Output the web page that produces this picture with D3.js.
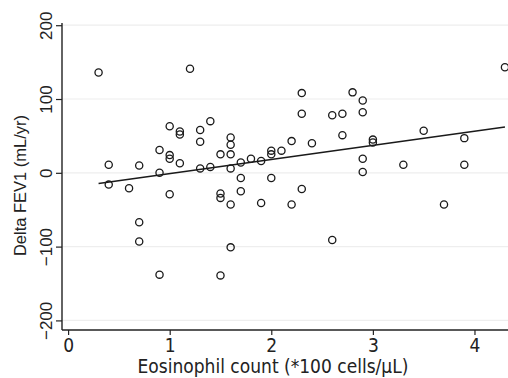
<!DOCTYPE html>
<html>
<head>
<meta charset="utf-8">
<script src="https://cdn.jsdelivr.net/npm/d3@7"></script>
<style>
  body { margin: 0; background: #fff; }
  svg { display: block; }
</style>
</head>
<body>
<div id="chart"></div>
<script>
// eosinophil count (*100 cells/uL)
const eos = [0.3, 0.4, 0.4, 0.6, 0.7, 0.7, 0.7, 0.9, 0.9, 0.9,
  1.0, 1.0, 1.0, 1.0, 1.1, 1.1, 1.1, 1.2, 1.3, 1.3,
  1.3, 1.4, 1.4, 1.5, 1.5, 1.5, 1.5, 1.6, 1.6, 1.6,
  1.6, 1.6, 1.6, 1.7, 1.7, 1.7, 1.8, 1.9, 1.9, 2.0,
  2.0, 2.0, 2.1, 2.2, 2.2, 2.3, 2.3, 2.3, 2.4, 2.6,
  2.6, 2.7, 2.7, 2.8, 2.9, 2.9, 2.9, 2.9, 3.0, 3.0,
  3.3, 3.5, 3.7, 3.9, 3.9, 4.3];
// delta FEV1 (mL/yr)
const fev = [136, 11, -16, -21, 10, -67, -93, 31, 0, -138,
  63, 24, 19, -29, 56, 52, 13, 141, 58, 42,
  6, 70, 8, 25, -28, -34, -139, 48, 38, 25,
  6, -43, -101, 14, -7, -25, 19, 16, -41, 30,
  25, -7, 30, 43, -43, 108, 80, -22, 40, 78,
  -91, 80, 51, 109, 98, 82, 19, 1, 45, 41,
  11, 57, -43, 47, 11, 143];
// fitted line
const fitX = [0.3, 4.3];
const fitY = [-14.5, 62];
const xTicks = [0, 1, 2, 3, 4];
const yTicks = [-200, -100, 0, 100, 200];

const W = 508, H = 378;
const pl = 62, pr = 508, pt = 23, pb = 330;

const svg = d3.select('#chart').append('svg')
  .attr('width', W)
  .attr('height', H);

const x = d3.scaleLinear().domain([-0.06, 4.33]).range([pl, pr]);
const y = d3.scaleLinear().domain([-213, 203]).range([pb, pt]);

// grid
svg.append('g').selectAll('line')
  .data(yTicks)
  .join('line')
  .attr('x1', pl).attr('x2', pr)
  .attr('y1', d => y(d)).attr('y2', d => y(d))
  .attr('stroke', '#eeeeee')
  .attr('stroke-width', 1.2);

// axes
const xAxis = svg.append('g')
  .attr('transform', `translate(0,${pb})`)
  .call(d3.axisBottom(x).tickValues(xTicks).tickSize(5).tickPadding(4).tickFormat(d3.format('d')));
xAxis.select('.domain').attr('stroke', '#222').attr('stroke-width', 1.4)
  .attr('d', `M${pl},0H${pr}`);
xAxis.selectAll('.tick line').attr('stroke', '#222').attr('stroke-width', 1.2);
xAxis.selectAll('.tick text')
  .attr('font-family', '"DejaVu Sans Condensed", "DejaVu Sans", sans-serif')
  .attr('font-size', 19)
  .attr('fill', '#222');

const yAxis = svg.append('g')
  .attr('transform', `translate(${pl},0)`)
  .call(d3.axisLeft(y).tickValues(yTicks).tickSize(6).tickPadding(0).tickFormat(d3.format('d')));
yAxis.select('.domain').attr('stroke', '#222').attr('stroke-width', 1.4)
  .attr('d', `M0,${pt}V${pb}`);
yAxis.selectAll('.tick line').attr('stroke', '#222').attr('stroke-width', 1.2);
yAxis.selectAll('.tick text')
  .attr('font-family', '"Liberation Sans", Arial, sans-serif')
  .attr('font-size', 17)
  .attr('fill', '#222')
  .attr('text-anchor', 'middle')
  .attr('dy', null)
  .attr('x', null)
  .attr('transform', 'translate(-10,0) rotate(-90)');

// points
svg.append('g').selectAll('circle')
  .data(eos.map((e, i) => [e, fev[i]]))
  .join('circle')
  .attr('cx', d => x(d[0]))
  .attr('cy', d => y(d[1]))
  .attr('r', 3.6)
  .attr('fill', 'none')
  .attr('stroke', '#1a1a1a')
  .attr('stroke-width', 1.3);

// fit line
svg.append('path')
  .datum(fitX.map((v, i) => [v, fitY[i]]))
  .attr('d', d3.line().x(d => x(d[0])).y(d => y(d[1])))
  .attr('fill', 'none')
  .attr('stroke', '#1a1a1a')
  .attr('stroke-width', 1.5);

// titles
svg.append('text')
  .attr('transform', `translate(26,${(pt + pb) / 2 + 9}) rotate(-90)`)
  .attr('text-anchor', 'middle')
  .attr('font-family', '"Liberation Sans", Arial, sans-serif')
  .attr('font-size', 16.5)
  .attr('fill', '#222')
  .text('Delta FEV1 (mL/yr)');

svg.append('text')
  .attr('x', 273)
  .attr('y', 373)
  .attr('text-anchor', 'middle')
  .attr('font-family', '"DejaVu Sans Condensed", "DejaVu Sans", sans-serif')
  .attr('font-size', 19)
  .attr('fill', '#222')
  .text('Eosinophil count (*100 cells/µL)');
</script>
</body>
</html>
